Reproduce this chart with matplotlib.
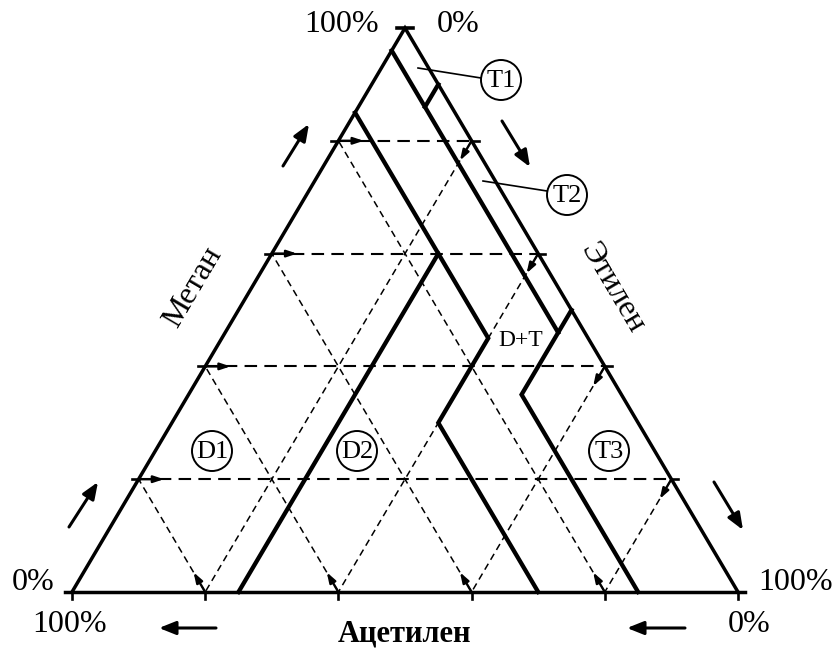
import numpy as np
import matplotlib.pyplot as plt
from matplotlib.patches import Circle

plt.rcParams['font.family'] = ['Liberation Serif', 'DejaVu Serif']

# triangle corners in figure pixels: C2H2 = 100% (bottom left),
# C2H4 = 100% (bottom right), CH4 = 100% (top)
corner_a = np.array([72.0, 592.0])
corner_e = np.array([738.0, 592.0])
corner_m = np.array([405.0, 28.0])

grid_levels = [20, 40, 60, 80]

# zone borders as (C2H2 %, C2H4 %, CH4 %) polylines
border_t1_t2 = [(0, 10, 90), (4, 10, 86)]
border_t_top = [(4, 0, 96), (4, 50, 46)]
border_t3 = [(0, 50, 50), (15, 50, 35), (15, 85, 0)]
border_d1 = [(15, 0, 85), (15, 25, 60), (75, 25, 0)]
border_d2 = [(15, 25, 60), (15, 40, 45), (30, 40, 30), (30, 70, 0)]
borders = [border_t1_t2, border_t_top, border_t3, border_d1, border_d2]


def tern(a, e, m):
    """percentages of C2H2, C2H4, CH4 -> pixel position"""
    s = a + e + m
    p = (a * corner_a + e * corner_e + m * corner_m) / s
    return p[0], p[1]


fig = plt.figure(figsize=(8.33, 6.48), dpi=100)
ax = fig.add_axes([0, 0, 1, 1])
ax.set_xlim(0, 833)
ax.set_ylim(648, 0)
ax.set_aspect('equal')
ax.axis('off')

#%% dashed grid
for lv in grid_levels:
    # CH4 = const (horizontal)
    x0, y0 = tern(100 - lv, 0, lv)
    x1, y1 = tern(0, 100 - lv, lv)
    ax.plot([x0, x1], [y0, y1], color='k', lw=1.5, ls=(0, (6, 3.5)))
    # C2H2 = const
    x0, y0 = tern(lv, 100 - lv, 0)
    x1, y1 = tern(lv, 0, 100 - lv)
    ax.plot([x0, x1], [y0, y1], color='k', lw=1.1, ls=(0, (4.5, 3)))
    # C2H4 = const
    x0, y0 = tern(0, lv, 100 - lv)
    x1, y1 = tern(100 - lv, lv, 0)
    ax.plot([x0, x1], [y0, y1], color='k', lw=1.1, ls=(0, (4.5, 3)))

#%% ticks and small arrows on the grid lines
tick = 7
head = dict(arrowstyle='-|>,head_length=0.6,head_width=0.2', color='k',
            lw=1.7, shrinkA=0, shrinkB=0)
for lv in grid_levels:
    xl, yl = tern(100 - lv, 0, lv)
    ax.plot([xl - tick, xl], [yl, yl], color='k', lw=1.9)
    ax.annotate('', xy=tern(100 - lv - 3.8, 3.8, lv), xytext=(xl, yl), arrowprops=head)

    xr, yr = tern(0, 100 - lv, lv)
    ax.plot([xr, xr + tick], [yr, yr], color='k', lw=1.9)
    ax.annotate('', xy=tern(3.5, 100 - lv, lv - 3.5), xytext=(xr, yr), arrowprops=head)

    xb, yb = tern(lv, 100 - lv, 0)
    ax.plot([xb, xb], [yb, yb + tick], color='k', lw=1.9)
    ax.annotate('', xy=tern(lv, 100 - lv - 3.5, 3.5), xytext=(xb, yb), arrowprops=head)

# corner ticks
for xc, yc in [tern(100, 0, 0), tern(0, 100, 0)]:
    ax.plot([xc, xc], [yc, yc + tick], color='k', lw=1.9)
xt, yt = tern(0, 0, 100)
ax.plot([xt - 8, xt + 8], [yt, yt], color='k', lw=2.6)

#%% outline and zone borders
xa, ya = tern(100, 0, 0)
xe, ye = tern(0, 100, 0)
ax.plot([xa - tick, xe + tick], [ya, ye], color='k', lw=2.5)
ax.plot([xa, xt, xe], [ya, yt, ye], color='k', lw=2.5, solid_joinstyle='miter')

for b in borders:
    pts = np.array([tern(*p) for p in b])
    ax.plot(pts[:, 0], pts[:, 1], color='k', lw=3.1, solid_joinstyle='miter')

#%% big direction arrows
big = dict(arrowstyle='-|>,head_length=1.0,head_width=0.4', color='k',
           lw=2.2, shrinkA=0, shrinkB=0)
ax.annotate('', xy=(98, 482), xytext=(69, 527), arrowprops=big)
ax.annotate('', xy=(309, 124), xytext=(283, 166), arrowprops=big)
ax.annotate('', xy=(530, 167), xytext=(502, 121), arrowprops=big)
ax.annotate('', xy=(743, 530), xytext=(714, 482), arrowprops=big)
ax.annotate('', xy=(159, 628), xytext=(216, 628), arrowprops=big)
ax.annotate('', xy=(627, 628), xytext=(685, 628), arrowprops=big)

#%% percent labels
fs = 23
ax.text(342, 25, '100%', fontsize=fs, ha='center', va='center')
ax.text(458, 25, '0%', fontsize=fs, ha='center', va='center')
ax.text(33, 583, '0%', fontsize=fs, ha='center', va='center')
ax.text(70, 625, '100%', fontsize=fs, ha='center', va='center')
ax.text(796, 583, '100%', fontsize=fs, ha='center', va='center')
ax.text(749, 625, '0%', fontsize=fs, ha='center', va='center')

# axis names
ang = np.degrees(np.arctan2(corner_a[1] - corner_m[1], corner_m[0] - corner_a[0]))
ax.text(193, 287, 'Метан', fontsize=23, rotation=ang, ha='center', va='center',
        rotation_mode='anchor')
ax.text(612, 288, 'Этилен', fontsize=23, rotation=-ang, ha='center', va='center',
        rotation_mode='anchor')
ax.text(405, 634, 'Ацетилен', fontsize=22, fontweight='bold', ha='center', va='center')

#%% zone labels
zones = ['T1', 'T2', 'D1', 'D2', 'T3']
zone_xy = [(501, 80), (567, 195), (212, 451), (357, 451), (609, 451)]
for name, (zx, zy) in zip(zones, zone_xy):
    ax.add_patch(Circle((zx, zy), 20, fill=False, ec='k', lw=1.4))
    ax.text(zx, zy + 1, name, fontsize=19, ha='center', va='center')

ax.plot([418, 481], [68, 78], color='k', lw=1.2)
ax.plot([483, 547], [181, 191], color='k', lw=1.2)
ax.text(521, 340, 'D+T', fontsize=17, ha='center', va='center')

fig.savefig('out.png', dpi=100)
